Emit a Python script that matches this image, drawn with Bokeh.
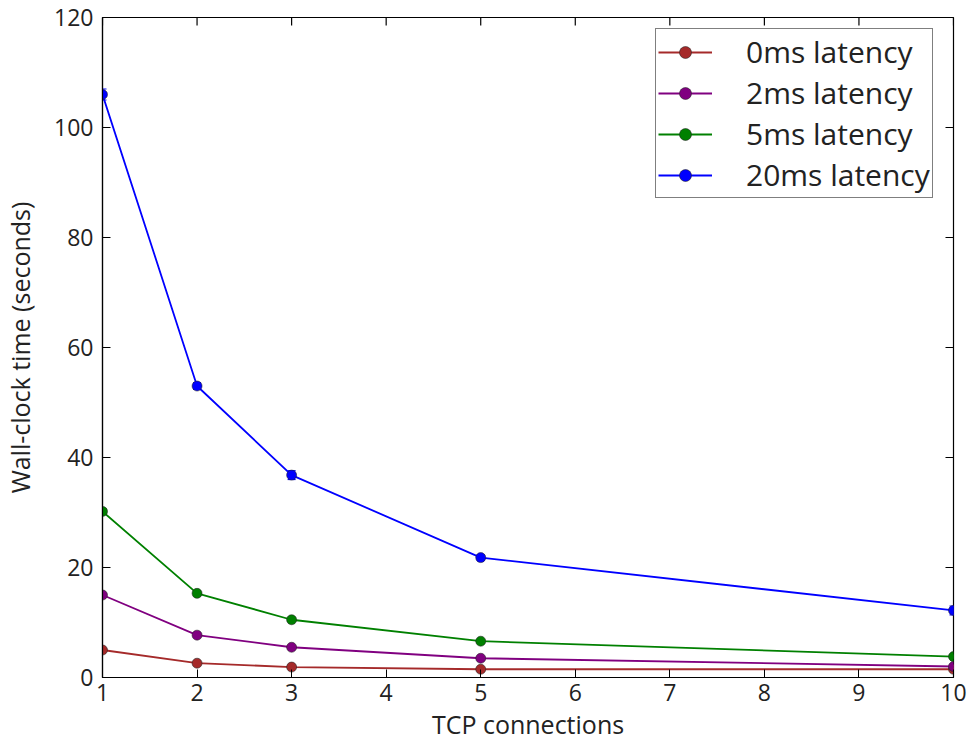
import math
from bokeh.plotting import figure
from bokeh.models import (ColumnDataSource, Whisker, TeeHead, Legend, LegendItem,
                          Range1d, FixedTicker)
from bokeh.embed import file_html
from bokeh.resources import INLINE

connections = [1, 2, 3, 5, 10]
series_names = ["0ms latency", "2ms latency", "5ms latency", "20ms latency"]
lat_0ms = [5.0, 2.6, 1.9, 1.5, 1.5]
lat_2ms = [15.0, 7.7, 5.5, 3.5, 2.0]
lat_5ms = [30.2, 15.3, 10.5, 6.6, 3.8]
lat_20ms = [106.0, 53.0, 36.8, 21.8, 12.2]
err_0ms = [0.2, 0.2, 0.1, 0.1, 0.1]
err_2ms = [0.3, 0.3, 0.2, 0.2, 0.2]
err_5ms = [0.5, 0.4, 0.3, 0.3, 0.3]
err_20ms = [1.0, 0.6, 0.8, 0.5, 0.8]
colors = ["#A52A2A", "#800080", "#008000", "#0000FF"]
x_ticks = [1, 2, 3, 4, 5, 6, 7, 8, 9, 10]
y_ticks = [0, 20, 40, 60, 80, 100, 120]
x_min, x_max = 1, 10
y_min, y_max = 0, 120

FONT = "Open Sans"
TXT = "#222222"

p = figure(width=968, height=743, output_backend="svg", toolbar_location=None,
           x_range=Range1d(x_min, x_max), y_range=Range1d(y_min, y_max),
           min_border_left=101, min_border_right=15, min_border_top=17, min_border_bottom=66)
p.background_fill_color = "white"
p.border_fill_color = "white"
p.outline_line_color = "black"
p.outline_line_width = 1.2
p.xgrid.visible = False
p.ygrid.visible = False

p.xaxis.ticker = FixedTicker(ticks=x_ticks)
p.yaxis.ticker = FixedTicker(ticks=y_ticks)
for ax in (p.xaxis[0], p.yaxis[0]):
    ax.axis_line_color = "black"
    ax.axis_line_width = 1.2
    ax.major_tick_in = 8
    ax.major_tick_out = 0
    ax.minor_tick_in = 0
    ax.minor_tick_out = 0
    ax.major_tick_line_color = "black"
    ax.major_label_text_font = FONT
    ax.major_label_text_font_size = "23px"
    ax.major_label_text_color = TXT
    ax.axis_label_text_font = FONT
    ax.axis_label_text_font_size = "25px"
    ax.axis_label_text_font_style = "normal"
    ax.axis_label_text_color = TXT
p.xaxis.axis_label = "TCP connections"
p.yaxis.axis_label = "Wall-clock time (seconds)"
p.xaxis.major_label_standoff = 6
p.yaxis.major_label_standoff = 9
p.xaxis.axis_label_standoff = 3
p.yaxis.axis_label_standoff = 14

# inward ticks on the top and right edges (half of each dash is clipped by the frame)
p.scatter(x=x_ticks, y=[y_max] * len(x_ticks), marker="dash", size=16,
          angle=math.pi / 2, line_color="black", line_width=1.2)
p.scatter(x=[x_max] * len(y_ticks), y=y_ticks, marker="dash", size=16,
          line_color="black", line_width=1.2)

all_vals = [lat_0ms, lat_2ms, lat_5ms, lat_20ms]
all_errs = [err_0ms, err_2ms, err_5ms, err_20ms]
items = []
for name, vals, errs, col in zip(series_names, all_vals, all_errs, colors):
    src = ColumnDataSource(dict(
        x=connections, y=vals,
        lo=[v - e for v, e in zip(vals, errs)],
        hi=[v + e for v, e in zip(vals, errs)],
    ))
    w = Whisker(source=src, base="x", upper="hi", lower="lo",
                line_color=col, line_width=1.2,
                upper_head=TeeHead(size=8, line_color=col, line_width=1.2),
                lower_head=TeeHead(size=8, line_color=col, line_width=1.2))
    p.add_layout(w)
    ln = p.line("x", "y", source=src, line_color=col, line_width=1.8)
    sc = p.scatter("x", "y", source=src, marker="circle", size=10,
                   fill_color=col, line_color="#222222", line_width=0.8, line_alpha=0.7)
    items.append(LegendItem(label=name, renderers=[ln, sc]))

legend = Legend(items=items, location=(553, 479),
                label_text_font=FONT, label_text_font_size="30px",
                label_text_color=TXT,
                border_line_color="black", border_line_width=1.5,
                background_fill_color="white", background_fill_alpha=1.0,
                glyph_width=54, glyph_height=30, label_height=30,
                label_standoff=34, spacing=0, padding=2, margin=0)
p.add_layout(legend, "center")

open("out.html", "w").write(file_html(p, INLINE))
